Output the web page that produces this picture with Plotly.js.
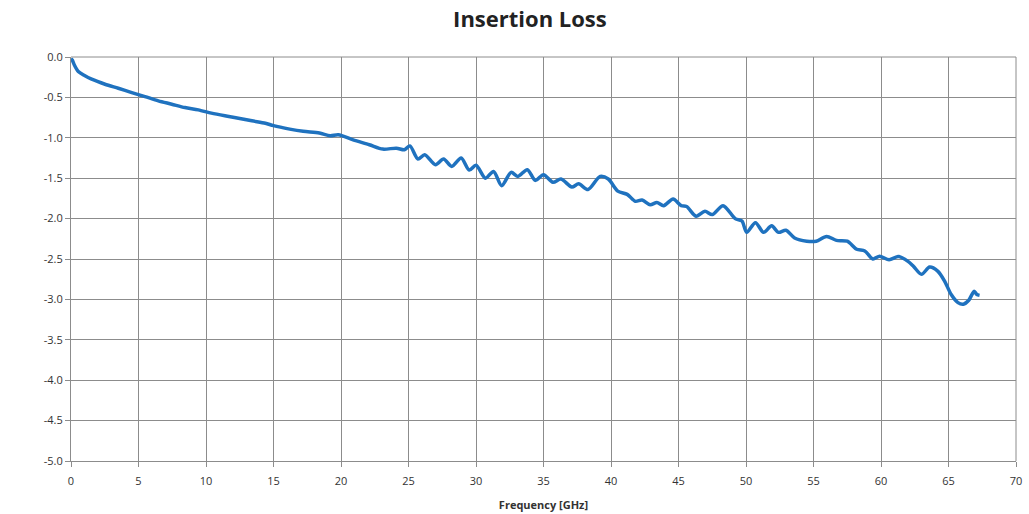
<!DOCTYPE html>
<html>
<head>
<meta charset="utf-8">
<script src="https://cdn.plot.ly/plotly-3.0.1.min.js"></script>
<style>html,body{margin:0;padding:0;background:#fff;}#chart{width:1029px;height:514px;}</style>
</head>
<body>
<div id="chart"></div>
<script>
const freqGHz = [0, 0.1, 0.25, 0.54, 1.0, 1.53, 2.52, 3.5, 4.5, 5.48, 6.47, 7.46, 8.44, 9.43, 10.4, 11.4, 12.4, 13.4, 14.4, 15.0, 16.2, 17.2, 18.4, 19.2, 19.8, 20.9, 22.1, 23.1, 24.1, 24.7, 25.1, 25.7, 26.2, 27.0, 27.6, 28.2, 28.9, 29.5, 30.0, 30.7, 31.3, 31.9, 32.6, 33.1, 33.8, 34.4, 35.0, 35.7, 36.3, 37.1, 37.6, 38.3, 39.2, 39.8, 40.5, 41.2, 41.8, 42.3, 42.9, 43.4, 43.9, 44.6, 45.2, 45.6, 46.3, 46.96, 47.5, 48.3, 49.2, 49.7, 50.05, 50.7, 51.3, 51.9, 52.4, 52.96, 53.6, 54.5, 55.2, 55.97, 56.7, 57.5, 58.2, 58.8, 59.4, 59.9, 60.6, 61.3, 62.0, 62.4, 63.0, 63.6, 64.2, 64.7, 65.2, 65.7, 66.1, 66.5, 66.9, 67.1, 67.3];
const lossDB = [-0.02, -0.04, -0.1, -0.18, -0.23, -0.275, -0.337, -0.387, -0.44, -0.49, -0.543, -0.584, -0.626, -0.654, -0.695, -0.728, -0.757, -0.79, -0.819, -0.85, -0.893, -0.92, -0.94, -0.975, -0.963, -1.025, -1.086, -1.14, -1.128, -1.148, -1.10, -1.263, -1.21, -1.333, -1.263, -1.354, -1.25, -1.40, -1.34, -1.50, -1.416, -1.593, -1.428, -1.478, -1.395, -1.527, -1.457, -1.55, -1.51, -1.61, -1.57, -1.64, -1.478, -1.51, -1.66, -1.70, -1.786, -1.77, -1.83, -1.80, -1.84, -1.757, -1.84, -1.85, -1.97, -1.91, -1.95, -1.84, -2.00, -2.03, -2.17, -2.05, -2.17, -2.09, -2.17, -2.144, -2.24, -2.28, -2.28, -2.22, -2.27, -2.28, -2.38, -2.40, -2.50, -2.465, -2.51, -2.47, -2.53, -2.59, -2.69, -2.60, -2.65, -2.77, -2.94, -3.04, -3.06, -3.01, -2.90, -2.94, -2.95];
const yTickVals = [0, -0.5, -1, -1.5, -2, -2.5, -3, -3.5, -4, -4.5, -5];
const yTickText = ["0.0", "-0.5", "-1.0", "-1.5", "-2.0", "-2.5", "-3.0", "-3.5", "-4.0", "-4.5", "-5.0"];
const chartTitle = "Insertion Loss";
const xTitle = "Frequency [GHz]";

const trace = {
  x: freqGHz, y: lossDB, type: 'scatter', mode: 'lines',
  line: {color: '#1f72bf', width: 3.5, shape: 'spline', smoothing: 0.8},
  hoverinfo: 'x+y'
};
const layout = {
  width: 1029, height: 514,
  paper_bgcolor: '#fff', plot_bgcolor: '#fff',
  margin: {l: 71, r: 13, t: 57, b: 53},
  showlegend: false,
  title: {text: '<b>' + chartTitle + '</b>', x: 0.515, xanchor: 'center', y: 0.962, yanchor: 'middle',
          font: {family: 'Open Sans, sans-serif', size: 22, color: '#222'}},
  xaxis: {
    range: [0, 70], dtick: 5, tick0: 0, showgrid: true, gridcolor: '#8c8c8c', gridwidth: 1,
    zeroline: false, showline: true, linecolor: '#8c8c8c', linewidth: 1, mirror: false,
    ticks: 'outside', ticklen: 5, tickcolor: '#8c8c8c', ticklabelstandoff: 5,
    tickfont: {family: 'Open Sans, sans-serif', size: 11, color: '#333'},
    title: {text: '<b>' + xTitle + '</b>', standoff: 14, font: {family: 'Open Sans, sans-serif', size: 11, color: '#333'}}
  },
  yaxis: {
    range: [-5, 0], tickmode: 'array', tickvals: yTickVals, ticktext: yTickText,
    showgrid: true, gridcolor: '#8c8c8c', gridwidth: 1,
    zeroline: false, showline: true, linecolor: '#8c8c8c', linewidth: 1,
    ticks: 'outside', ticklen: 5, tickcolor: '#8c8c8c',
    tickfont: {family: 'Open Sans, sans-serif', size: 11, color: '#333'}
  },
  shapes: [{type: 'line', xref: 'paper', yref: 'paper', x0: 0, x1: 1, y0: 1, y1: 1, line: {color: '#8c8c8c', width: 1}},
           {type: 'line', xref: 'paper', yref: 'paper', x0: 1, x1: 1, y0: 0, y1: 1, line: {color: '#8c8c8c', width: 1}}]
};
Plotly.newPlot('chart', [trace], layout, {displayModeBar: false, staticPlot: true});
</script>
</body>
</html>
